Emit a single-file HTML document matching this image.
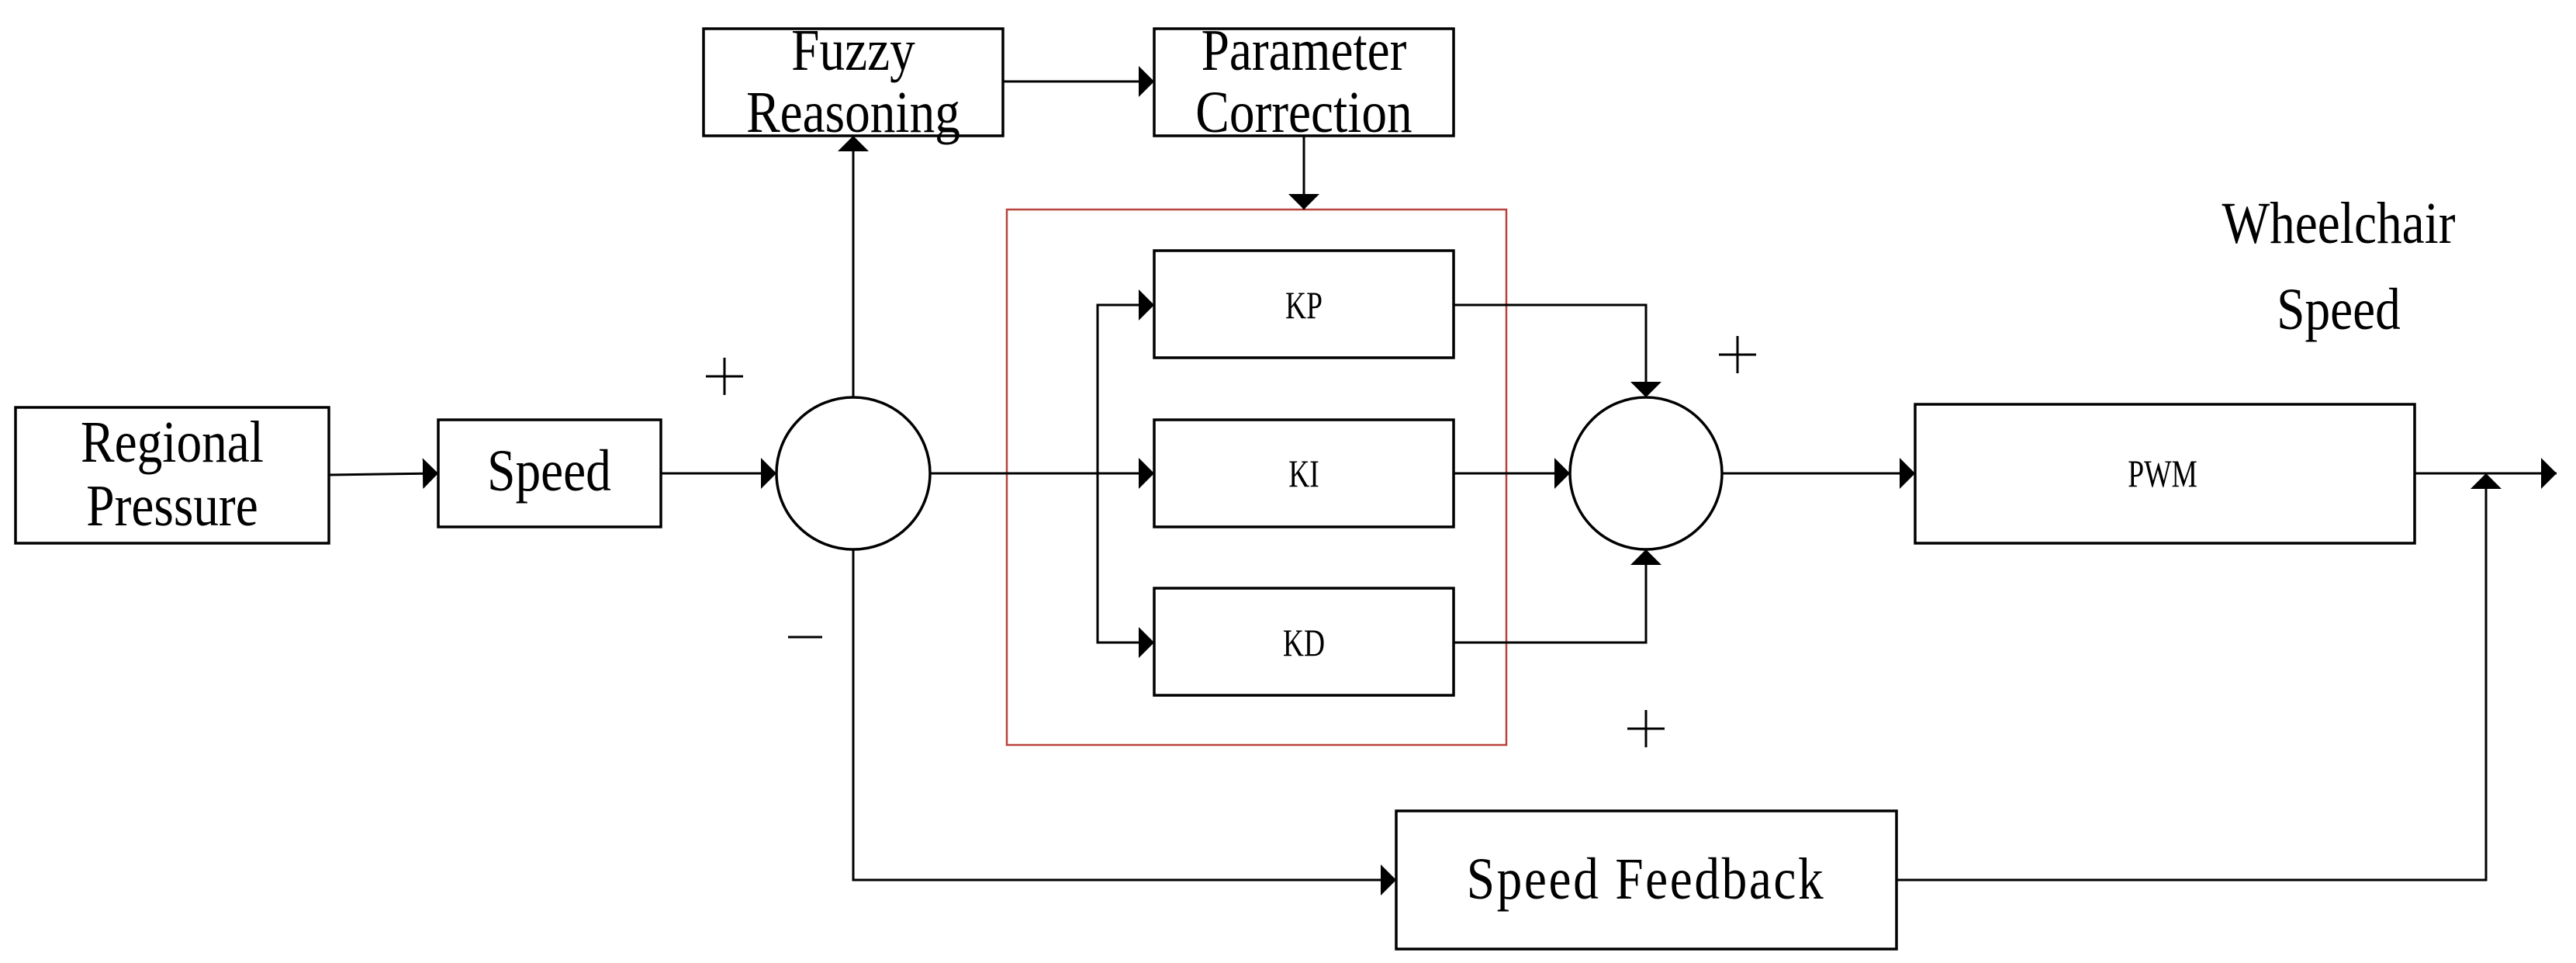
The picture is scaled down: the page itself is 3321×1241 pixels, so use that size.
<!DOCTYPE html>
<html><head><meta charset="utf-8"><style>
html,body{margin:0;padding:0;background:#fff;}
svg{display:block;}
text{font-family:"Liberation Serif",serif;fill:#000;}
</style></head><body>
<svg width="3321" height="1241" viewBox="0 0 3321 1241" xmlns="http://www.w3.org/2000/svg">
<defs>
<marker id="a" markerWidth="20" markerHeight="40" refX="20" refY="20" orient="auto" markerUnits="userSpaceOnUse">
<path d="M0,0 L20,20 L0,40 Z" fill="#000"/>
</marker>
</defs>
<g fill="none" stroke="#000" stroke-width="3.5">
<rect x="20" y="525" width="404" height="175"/>
<rect x="565" y="541" width="287" height="138"/>
<rect x="907" y="37" width="386" height="138"/>
<rect x="1488" y="37" width="386" height="138"/>
<rect x="1488" y="323" width="386" height="138"/>
<rect x="1488" y="541" width="386" height="138"/>
<rect x="1488" y="758" width="386" height="138"/>
<rect x="2469" y="521" width="644" height="179"/>
<rect x="1800" y="1045" width="645" height="178"/>
<ellipse cx="1100" cy="610" rx="99" ry="98"/>
<ellipse cx="2122" cy="610" rx="98" ry="98"/>
</g>
<rect x="1298" y="270" width="644" height="690" fill="none" stroke="#b8433c" stroke-width="2.5"/>
<g fill="none" stroke="#000" stroke-width="3" marker-end="url(#a)">
<path d="M424,612 L565,610"/>
<path d="M852,610 L1001,610"/>
<path d="M1100,511 L1100,175"/>
<path d="M1293,105 L1488,105"/>
<path d="M1681,175 L1681,270"/>
<path d="M1199,610 L1488,610"/>
<path d="M1415,610 L1415,393 L1488,393"/>
<path d="M1415,610 L1415,828 L1488,828"/>
<path d="M1874,393 L2122,393 L2122,512"/>
<path d="M1874,828 L2122,828 L2122,708"/>
<path d="M1874,610 L2024,610"/>
<path d="M2220,610 L2469,610"/>
<path d="M3113,610 L3296,610"/>
<path d="M2445,1134 L3205,1134 L3205,610"/>
<path d="M1100,708 L1100,1134 L1800,1134"/>
</g>
<g font-size="76" text-anchor="middle">
<text transform="translate(222 595) scale(0.86 1)">Regional</text>
<text transform="translate(222 677) scale(0.86 1)">Pressure</text>
<text transform="translate(708 632) scale(0.86 1)">Speed</text>
<text transform="translate(1100 90) scale(0.86 1)">Fuzzy</text>
<text transform="translate(1100 170) scale(0.86 1)">Reasoning</text>
<text transform="translate(1681 90) scale(0.86 1)">Parameter</text>
<text transform="translate(1681 170) scale(0.86 1)">Correction</text>
<text transform="translate(3015 313) scale(0.86 1)">Wheelchair</text>
<text transform="translate(3015 424) scale(0.86 1)">Speed</text>
<text transform="translate(2122 1158) scale(0.86 1)" letter-spacing="3">Speed Feedback</text>
</g>
<g font-size="50" text-anchor="middle">
<text transform="translate(1681 410) scale(0.75 1)">KP</text>
<text transform="translate(1681 627) scale(0.75 1)">KI</text>
<text transform="translate(1681 845) scale(0.75 1)">KD</text>
<text transform="translate(2788 627) scale(0.75 1)">PWM</text>
</g>
<g stroke="#000" stroke-width="3">
<path d="M910,485 L958,485 M934,461 L934,509"/>
<path d="M2216,457 L2264,457 M2240,433 L2240,481"/>
<path d="M2098,939 L2146,939 M2122,915 L2122,963"/>
<path d="M1016,821 L1060,821"/>
</g>
</svg>
</body></html>
